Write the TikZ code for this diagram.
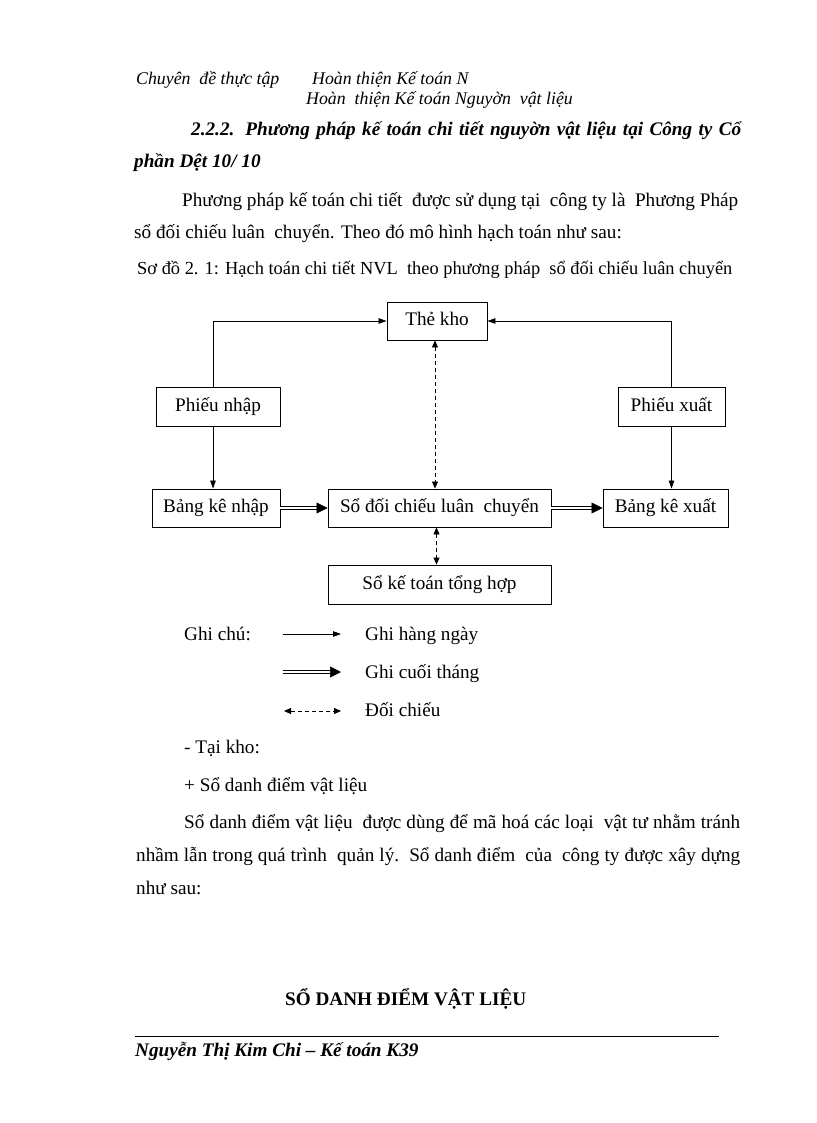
\documentclass[tikz,border=0pt]{standalone}
\usepackage{fontspec}
\setmainfont{Liberation Serif}
\newfontfamily\capfont{Liberation Serif}
\usetikzlibrary{arrows.meta}
\begin{document}
\begin{tikzpicture}[x=1pt,y=-1pt,
  box/.style={draw, line width=0.9pt, inner sep=0pt, text height=13pt, text depth=4pt, font=\fontsize{19.2}{22}\selectfont},
  txt/.style={anchor=base west, inner sep=0pt, font=\fontsize{19.2}{22}\selectfont},
  hdr/.style={anchor=base west, inner sep=0pt, font=\fontsize{17.8}{20}\selectfont\itshape},
  bi/.style={anchor=base west, inner sep=0pt, font=\fontsize{19.2}{22}\selectfont\bfseries\itshape},
  arr/.style={line width=0.8pt, -{Triangle[length=8pt,width=5.5pt]}},
  dbl/.style={line width=0.7pt, double distance=2.4pt, -{Triangle[length=11pt,width=11pt]}},
  dsh/.style={line width=0.8pt, dash pattern=on 4pt off 3pt, {Triangle[length=7pt,width=6pt]}-{Triangle[length=7pt,width=6pt]}}]
\useasboundingbox (0,0) rectangle (816,1123);
\fill[white] (0,0) rectangle (816,1123);

% header
\node[hdr] (h1) at (136,85) {Chuyên\ \ đề thực tập};
\node[hdr] (h2) at (312,85) {Hoàn thiện Kế toán N};
\node[hdr] (h3) at (306,105) {Hoàn\ \ thiện Kế toán Nguyờn\ \ vật liệu};

% heading
\node[bi] (hd1) at (191,136) {\makebox[550pt][s]{2.2.2. Phương pháp kế toán chi tiết nguyờn vật liệu tại Công ty Cổ}};
\node[bi] (hd2) at (134,168) {phần Dệt 10/ 10};

% paragraph
\node[txt] (p1) at (182,207) {\makebox[556pt][s]{Phương pháp kế toán chi tiết\ \ được sử dụng tại\ \ công ty là\ \ Phương Pháp}};
\node[txt] (p2) at (134,239) {sổ đối chiếu luân\ \ chuyển. Theo đó mô hình hạch toán như sau:};

% caption
\node[anchor=base west, inner sep=0pt, font=\fontsize{18.4}{21}\selectfont\capfont] (cap) at (137,274) {Sơ đồ 2. 1: Hạch toán chi tiết NVL\ \ theo phương pháp\ \ sổ đối chiếu luân chuyển};

% diagram boxes
\node[box, minimum width=100pt, minimum height=38pt] (tk) at (437,321) {Thẻ kho};
\node[box, minimum width=124pt, minimum height=39pt] (pn) at (218,406.5) {Phiếu nhập};
\node[box, minimum width=107pt, minimum height=39pt] (px) at (671.5,406.5) {Phiếu xuất};
\node[box, minimum width=128pt, minimum height=38pt] (bkn) at (216,508) {Bảng kê nhập};
\node[box, minimum width=223pt, minimum height=38pt] (sdc) at (439.5,508) {Sổ đối chiếu luân\ \ chuyển};
\node[box, minimum width=125pt, minimum height=38pt] (bkx) at (665.5,508) {Bảng kê xuất};
\node[box, minimum width=223pt, minimum height=39pt] (sth) at (439.5,584.5) {Sổ kế toán tổng hợp};

% connectors
\draw[arr] ([xshift=-5pt]pn.north) |- (tk.west);
\draw[arr] (px.north) |- (tk.east);
\draw[arr] ([xshift=-5pt]pn.south) -- ([xshift=-5pt]pn.south |- bkn.north);
\draw[arr] (px.south) -- (px.south |- bkx.north);
\draw[dbl] (bkn.east) -- (sdc.west);
\draw[dbl] (sdc.east) -- (bkx.west);
\draw[dsh] ([xshift=-2pt]tk.south) -- ([xshift=-2pt]tk.south |- sdc.north);
\draw[dsh] ([xshift=-3pt]sdc.south) -- ([xshift=-3pt]sdc.south |- sth.north);

% legend
\node[txt] (gc) at (184,640) {Ghi chú:};
\coordinate (l1a) at (283,634); \coordinate (l1b) at (341,634);
\coordinate (l2a) at (283,672); \coordinate (l2b) at (341,672);
\coordinate (l3a) at (284,711); \coordinate (l3b) at (341,711);
\draw[arr] (l1a) -- (l1b);
\draw[dbl] (l2a) -- (l2b);
\draw[dsh] (l3a) -- (l3b);
\node[txt] (g1) at (365,640) {Ghi hàng ngày};
\node[txt] (g2) at (365,678) {Ghi cuối tháng};
\node[txt] (g3) at (365,716) {Đối chiếu};

% following text
\node[txt] (t1) at (184,753) {- Tại kho:};
\node[txt] (t2) at (184,791) {+ Sổ danh điểm vật liệu};
\node[txt] (t3) at (184,828) {\makebox[556pt][s]{Sổ danh điểm vật liệu\ \ được dùng để mã hoá các loại\ \ vật tư nhằm tránh}};
\node[txt] (t4) at (136,861) {\makebox[604pt][s]{nhầm lẫn trong quá trình\ \ quản lý.\ \ Sổ danh điểm\ \ của\ \ công ty được xây dựng}};
\node[txt] (t5) at (136,894) {như sau:};

\node[anchor=base west, inner sep=0pt, font=\fontsize{19.2}{22}\selectfont\bfseries] (ttl) at (285,1005) {SỔ DANH ĐIỂM VẬT LIỆU};

% footer
\draw[line width=0.8pt] (135,1036) -- (719,1036);
\node[bi] (ft) at (135,1056) {Nguyễn Thị Kim Chi – Kế toán K39};
\end{tikzpicture}
\end{document}
